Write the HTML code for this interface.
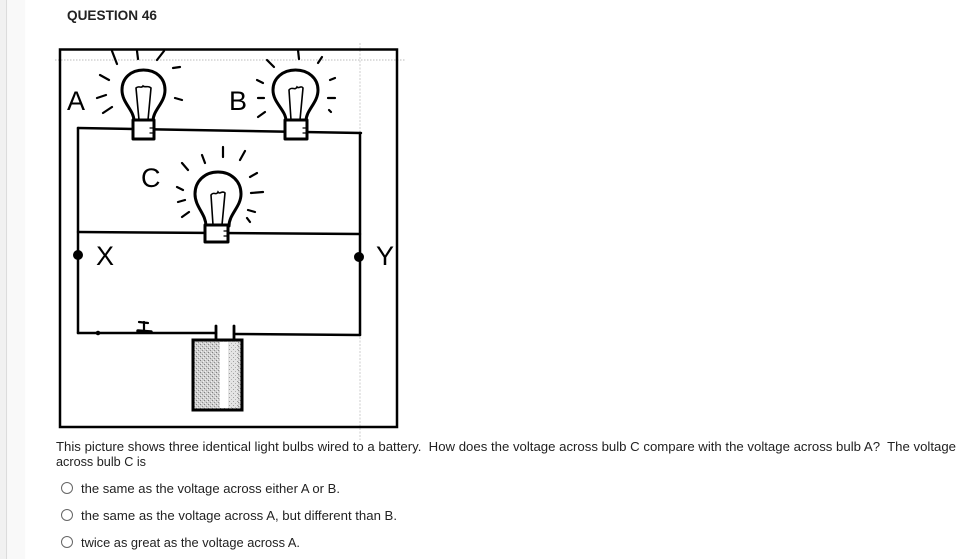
<!DOCTYPE html>
<html><head><meta charset="utf-8">
<style>
html,body{margin:0;padding:0;background:#fff;}
body{width:961px;height:559px;overflow:hidden;position:relative;}
svg{position:absolute;left:0;top:0;}
text{font-family:"Liberation Sans",sans-serif;}
</style></head>
<body>
<svg width="961" height="559" viewBox="0 0 961 559" xmlns="http://www.w3.org/2000/svg">
  <defs>
    <pattern id="stip" width="4" height="4" patternUnits="userSpaceOnUse">
      <rect width="4" height="4" fill="#d0d0d0"/>
      <rect x="0" y="0" width="1" height="1" fill="#808080"/>
      <rect x="2" y="2" width="1" height="1" fill="#909090"/>
      <rect x="3" y="1" width="1" height="1" fill="#f0f0f0"/>
      <rect x="1" y="3" width="1" height="1" fill="#f0f0f0"/>
    </pattern>
    <pattern id="stip2" width="4" height="4" patternUnits="userSpaceOnUse">
      <rect width="4" height="4" fill="#e4e4e4"/>
      <rect x="1" y="1" width="1" height="1" fill="#a0a0a0"/>
      <rect x="3" y="3" width="1" height="1" fill="#b0b0b0"/>
    </pattern>
  </defs>
  <!-- left sidebar strip -->
  <rect x="0" y="0" width="6" height="559" fill="#f1f1f1"/>
  <rect x="6" y="0" width="1.2" height="559" fill="#dcdcdc"/>
  <rect x="7.2" y="0" width="18" height="559" fill="#f9f9f9"/>

  <text x="67" y="20" font-size="14" font-weight="bold" fill="#222" textLength="90" lengthAdjust="spacingAndGlyphs">QUESTION 46</text>

  <!-- faint guide lines -->
  <line x1="55" y1="60" x2="406" y2="60" stroke="#bbb" stroke-width="1" stroke-dasharray="1.5 1.5"/>
  <line x1="360" y1="43" x2="360" y2="440" stroke="#ccc" stroke-width="1" stroke-dasharray="2 1.5"/>

  <!-- frame -->
  <rect x="60" y="49.5" width="337" height="377.5" fill="none" stroke="#000" stroke-width="2.5"/>

  <g stroke="#000" fill="none" stroke-linecap="round" stroke-linejoin="round">
    <!-- wires -->
    <path d="M78,128 L361,133" stroke-width="2.5"/>
    <path d="M78,128 L78,333" stroke-width="2.5"/>
    <path d="M360,133 L360,335" stroke-width="2.5"/>
    <path d="M78,232 L360,234" stroke-width="2.5"/>
    <path d="M78,333 L216,333" stroke-width="2.5"/>
    <path d="M234,334 L360,335" stroke-width="2.5"/>
    <!-- switch -->
    <path d="M139,322 L148,323 M144,322 L144,331" stroke-width="2.2"/>
    <path d="M138,331 L151,332" stroke-width="3.5"/>
    <circle cx="98" cy="333" r="1.8" fill="#000"/>
    <!-- battery terminals -->
    <path d="M216,326 L216,340 M234,326 L234,340" stroke-width="2.8"/>
  </g>
  <!-- battery -->
  <rect x="193" y="340" width="49" height="70" fill="url(#stip)" stroke="#000" stroke-width="3"/>
  <rect x="220" y="342" width="8" height="66" fill="#fff"/>
  <rect x="228" y="342" width="10" height="66" fill="url(#stip2)"/>

  <!-- dots -->
  <circle cx="78" cy="255" r="5" fill="#000"/>
  <circle cx="359" cy="257" r="5" fill="#000"/>

  <!-- bulbs -->
  <g stroke="#000" stroke-width="3" fill="#fff" stroke-linejoin="round" stroke-linecap="round">
    <!-- A -->
    <path d="M134,121 C134,110 122,103 122,90 C122,78 131,70 143.5,70 C156,70 165,78 165,90 C165,103 153,110 153,121"/>
    <rect x="133" y="120" width="21" height="19"/>
    <!-- B -->
    <path d="M286,121 C286,110 273,103 273,90 C273,78 283,70 295.5,70 C308,70 318,78 318,90 C318,103 306,110 306,121"/>
    <rect x="285" y="120" width="22" height="19"/>
    <!-- C -->
    <path d="M206,226 C206,214 195,207 195,194 C195,181 205,172 218,172 C231,172 241,181 241,194 C241,207 229,214 229,226"/>
    <rect x="205" y="225" width="23" height="17"/>
  </g>
  <g stroke="#000" stroke-width="1.6" fill="none" stroke-linecap="round">
    <!-- filaments -->
    <path d="M139,120 L136,88 M148,120 L151,88 M136,88 C139,85 141,89 143,86 C145,88 148,85 151,88"/>
    <path d="M291,120 L289,90 M300,120 L303,88 M289,90 C292,86 295,91 297,87 C299,89 301,85 303,88"/>
    <path d="M213,225 L211,195 M222,225 L225,193 M211,195 C214,191 216,196 218,192 C220,195 222,190 225,193"/>
    <!-- base ridges -->
    <path d="M150,128 L153,128 M150,133 L153,133" stroke-width="1.2"/>
    <path d="M303,128 L306,128 M303,133 L306,133" stroke-width="1.2"/>
    <path d="M224,231 L227,231 M224,236 L227,236" stroke-width="1.2"/>
  </g>
  <!-- rays -->
  <g stroke="#000" stroke-width="2.2" fill="none" stroke-linecap="round">
    <!-- A -->
    <path d="M112,51 L117,64 M137,51 L138,59 M157,60 L164,51 M173,68 L180,67 M175,98 L182,100 M100,75 L109,80 M97,98 L106,95 M103,113 L112,107"/>
    <!-- B -->
    <path d="M267,60 L274,67 M298,50 L299,59 M318,63 L322,57 M330,80 L335,78 M328,98 L335,98 M329,110 L331,112 M257,80 L263,83 M258,98 L264,98 M258,117 L265,112"/>
    <!-- C -->
    <path d="M182,163 L188,170 M202,155 L205,163 M223,147 L223,157 M240,160 L245,151 M250,177 L257,173 M251,193 L263,192 M177,187 L183,190 M178,202 L185,200 M182,217 L189,212 M248,210 L255,212 M247,218 L250,222"/>
  </g>

  <!-- labels -->
  <g font-size="27" fill="#000">
    <text x="67" y="110">A</text>
    <text x="229" y="110">B</text>
    <text x="141" y="187">C</text>
    <text x="96" y="265">X</text>
    <text x="376" y="265">Y</text>
  </g>

  <!-- question text -->
  <g font-size="13" fill="#222">
    <text x="56" y="451" textLength="900" lengthAdjust="spacingAndGlyphs" xml:space="preserve">This picture shows three identical light bulbs wired to a battery.  How does the voltage across bulb C compare with the voltage across bulb A?  The voltage</text>
    <text x="56" y="466" textLength="90" lengthAdjust="spacingAndGlyphs">across bulb C is</text>
    <text x="81" y="493" textLength="259" lengthAdjust="spacingAndGlyphs">the same as the voltage across either A or B.</text>
    <text x="81" y="520" textLength="316" lengthAdjust="spacingAndGlyphs">the same as the voltage across A, but different than B.</text>
    <text x="81" y="547" textLength="219" lengthAdjust="spacingAndGlyphs">twice as great as the voltage across A.</text>
  </g>
  <g fill="#fff" stroke="#666" stroke-width="1">
    <circle cx="67" cy="488" r="5.5"/>
    <circle cx="67" cy="515" r="5.5"/>
    <circle cx="67" cy="542" r="5.5"/>
  </g>
</svg>
</body></html>
